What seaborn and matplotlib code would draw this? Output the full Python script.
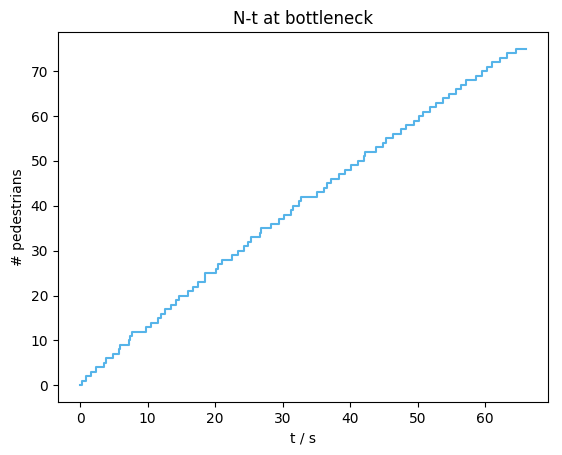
import matplotlib
matplotlib.use('Agg')
import matplotlib.pyplot as plt
import seaborn as sns
import pandas as pd

# passing times at the bottleneck (s)
t_pass = [0.0, 0.34, 0.83, 1.56, 2.3, 3.5, 3.9, 4.9, 5.75, 5.95,
          7.3, 7.45, 7.65, 9.8, 10.5, 11.5, 12.0, 12.6, 13.4, 14.2,
          14.6, 16.0, 16.7, 17.4, 18.45, 18.55, 20.1, 20.4, 21.0, 22.5,
          23.4, 24.2, 24.9, 25.3, 26.6, 26.8, 28.2, 29.4, 30.2, 31.3,
          31.6, 32.4, 32.7, 35.1, 36.1, 36.5, 37.2, 38.3, 39.3, 40.1,
          41.1, 42.1, 42.25, 43.8, 44.9, 45.3, 46.3, 47.5, 48.2, 49.4,
          50.2, 50.8, 51.9, 52.7, 53.7, 54.6, 55.7, 56.4, 57.2, 58.6,
          59.5, 60.3, 61.0, 62.2, 63.3, 64.6, 66.0]
n_ped = [0, 1, 2, 3, 4, 5, 6, 7, 8, 9,
         10, 11, 12, 13, 14, 15, 16, 17, 18, 19,
         20, 21, 22, 23, 24, 25, 26, 27, 28, 29,
         30, 31, 32, 33, 34, 35, 36, 37, 38, 39,
         40, 41, 42, 43, 44, 45, 46, 47, 48, 49,
         50, 51, 52, 53, 54, 55, 56, 57, 58, 59,
         60, 61, 62, 63, 64, 65, 66, 67, 68, 69,
         70, 71, 72, 73, 74, 75, 75]

df = pd.DataFrame({'t': t_pass, 'N': n_ped})

fig, ax = plt.subplots(figsize=(5.62, 4.55), dpi=100)
fig.subplots_adjust(left=0.103, right=0.975, top=0.93, bottom=0.116)

sns.lineplot(data=df, x='t', y='N', drawstyle='steps-post', color='#56b4e9',
             linewidth=1.5, ax=ax, estimator=None)

ax.set_title('N-t at bottleneck')
ax.set_xlabel('t / s')
ax.set_ylabel('# pedestrians')

plt.savefig('out.png')
